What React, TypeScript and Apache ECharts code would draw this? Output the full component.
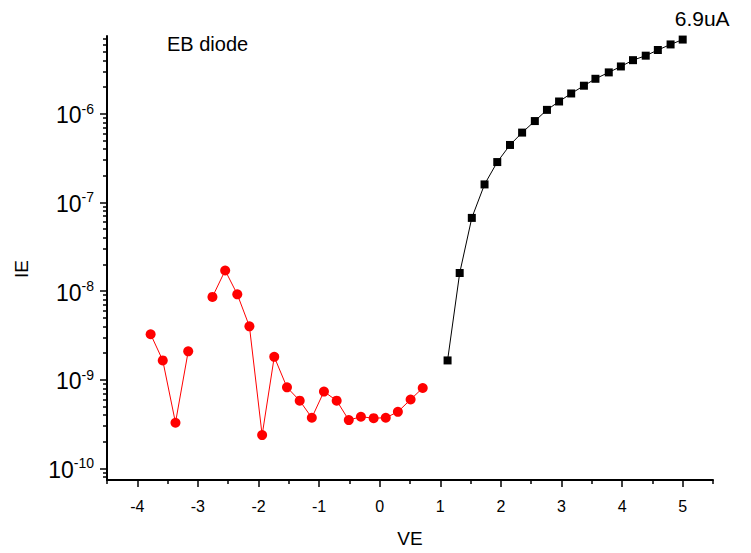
import React, { useEffect, useRef } from "react";
import * as echarts from "echarts";

// Forward branch (black squares)
const blackVE = [1.12, 1.32, 1.52, 1.73, 1.94, 2.15, 2.35, 2.56, 2.76, 2.96, 3.16, 3.37, 3.56, 3.78, 3.98, 4.18, 4.39, 4.59, 4.8, 5.0];
const blackIE = [1.65e-9, 1.6e-8, 6.7e-8, 1.6e-7, 2.86e-7, 4.46e-7, 6.15e-7, 8.3e-7, 1.11e-6, 1.38e-6, 1.7e-6, 2.08e-6, 2.49e-6, 2.94e-6, 3.43e-6, 4.04e-6, 4.54e-6, 5.26e-6, 6.08e-6, 6.9e-6];

// Reverse / low-bias branch (red circles); null = missing point (line break)
const redVE = [-3.78, -3.58, -3.37, -3.16, -2.96, -2.76, -2.55, -2.35, -2.15, -1.94, -1.74, -1.53, -1.32, -1.12, -0.92, -0.71, -0.51, -0.31, -0.1, 0.1, 0.3, 0.51, 0.71];
const redIE = [3.26e-9, 1.65e-9, 3.27e-10, 2.09e-9, null, 8.6e-9, 1.71e-8, 9.2e-9, 4.0e-9, 2.37e-10, 1.81e-9, 8.2e-10, 5.8e-10, 3.72e-10, 7.35e-10, 5.8e-10, 3.5e-10, 3.82e-10, 3.68e-10, 3.72e-10, 4.34e-10, 5.98e-10, 8.07e-10];

// Axis ticks
const xMajorTicks = [-4, -3, -2, -1, 0, 1, 2, 3, 4, 5];
const xMinorTicks = [-4.5, -3.5, -2.5, -1.5, -0.5, 0.5, 1.5, 2.5, 3.5, 4.5, 5.5];
const yDecadeExponents = [-10, -9, -8, -7, -6];
const yMinorDecades = [-11, -10, -9, -8, -7, -6];
const yMinorMultipliers = [2, 3, 4, 5, 6, 7, 8, 9];

const titleText = "EB diode";
const peakLabel = "6.9uA";
const xName = "VE";
const yName = "IE";

const X_MIN = -4.5;
const X_MAX = 5.5;
const Y_MIN = 7.38e-11;
const Y_MAX = 7.57e-6;

const FONT = "'Liberation Sans', Arial, Helvetica, sans-serif";

export default function App() {
  const ref = useRef<HTMLDivElement>(null);

  useEffect(() => {
    if (!ref.current) return;
    const chart = echarts.init(ref.current, undefined, { renderer: "svg" });

    const logMin = Math.log10(Y_MIN);
    const logMax = Math.log10(Y_MAX);
    const minorLogTicks: number[] = [];
    yMinorDecades.forEach((d) => {
      yMinorMultipliers.forEach((m) => {
        const v = Math.log10(m) + d;
        if (v >= logMin && v <= logMax) minorLogTicks.push(v);
      });
    });

    const blackData = blackVE.map((x, i) =>
      i === blackVE.length - 1
        ? {
            value: [x, blackIE[i]],
            label: {
              show: true,
              formatter: peakLabel,
              position: [-4, -28],
              align: "left",
              verticalAlign: "top",
              fontFamily: FONT,
              fontSize: 21,
              color: "#000",
            },
          }
        : [x, blackIE[i]]
    );
    const redData = redVE.map((x, i) => [x, redIE[i] === null ? "-" : redIE[i]]);

    const tickLine = { color: "#000", width: 1.5 };

    const option: any = {
      animation: false,
      backgroundColor: "#ffffff",
      title: {
        text: titleText,
        left: 167,
        top: 34,
        padding: 0,
        textStyle: { fontFamily: FONT, fontSize: 20, fontWeight: "normal", color: "#000" },
      },
      grid: { left: 107, right: 38, top: 36, bottom: 65 },
      xAxis: [
        {
          type: "value",
          position: "bottom",
          min: X_MIN,
          max: X_MAX,
          name: xName,
          nameLocation: "middle",
          nameGap: 49,
          nameTextStyle: { fontFamily: FONT, fontSize: 19, color: "#000" },
          axisLine: { show: true, onZero: false, lineStyle: { color: "#000", width: 2 } },
          axisTick: { show: true, length: 4, customValues: xMinorTicks, lineStyle: tickLine },
          axisLabel: { show: false },
          splitLine: { show: false },
        },
        {
          type: "value",
          position: "bottom",
          min: X_MIN,
          max: X_MAX,
          axisLine: { show: false, onZero: false },
          axisTick: { show: true, length: 7, customValues: xMajorTicks, lineStyle: tickLine },
          axisLabel: {
            show: true,
            customValues: xMajorTicks,
            margin: 18,
            fontFamily: FONT,
            fontSize: 16,
            color: "#000",
          },
          splitLine: { show: false },
        },
      ],
      yAxis: [
        {
          type: "log",
          logBase: 10,
          position: "left",
          min: Y_MIN,
          max: Y_MAX,
          name: yName,
          nameLocation: "middle",
          nameGap: 76,
          nameTextStyle: { fontFamily: FONT, fontSize: 19, color: "#000", padding: [0, 22, 0, 0] },
          axisLine: { show: true, onZero: false, lineStyle: { color: "#000", width: 2 } },
          axisTick: { show: false },
          axisLabel: { show: false },
          splitLine: { show: false },
          minorTick: { show: false },
        },
        {
          type: "value",
          position: "left",
          min: logMin,
          max: logMax,
          axisLine: { show: false, onZero: false },
          axisTick: { show: true, length: 4, customValues: minorLogTicks, lineStyle: tickLine },
          axisLabel: { show: false },
          splitLine: { show: false },
        },
        {
          type: "value",
          position: "left",
          min: logMin,
          max: logMax,
          axisLine: { show: false, onZero: false },
          axisTick: { show: true, length: 7, customValues: yDecadeExponents, lineStyle: tickLine },
          axisLabel: {
            show: true,
            customValues: yDecadeExponents,
            margin: 13,
            formatter: (v: number) => `{b|10}{s|${Math.round(v)}}`,
            rich: {
              b: { fontFamily: FONT, fontSize: 23, color: "#000", lineHeight: 24, padding: [3, 0, 0, 0] },
              s: { fontFamily: FONT, fontSize: 14, color: "#000", lineHeight: 14, verticalAlign: "top" },
            },
          },
          splitLine: { show: false },
        },
      ],
      series: [
        {
          type: "line",
          name: "reverse",
          xAxisIndex: 0,
          yAxisIndex: 0,
          data: redData,
          connectNulls: false,
          symbol: "circle",
          symbolSize: 10,
          itemStyle: { color: "#ff0000" },
          lineStyle: { color: "#ff0000", width: 1 },
          z: 3,
        },
        {
          type: "line",
          name: "forward",
          xAxisIndex: 0,
          yAxisIndex: 0,
          data: blackData,
          symbol: "rect",
          symbolSize: 8,
          itemStyle: { color: "#000000" },
          lineStyle: { color: "#000000", width: 1 },
          z: 4,
        },
      ],
    };

    chart.setOption(option);
    return () => chart.dispose();
  }, []);

  return <div ref={ref} style={{ width: 751, height: 553, position: "absolute", left: 0, top: 0 }} />;
}
